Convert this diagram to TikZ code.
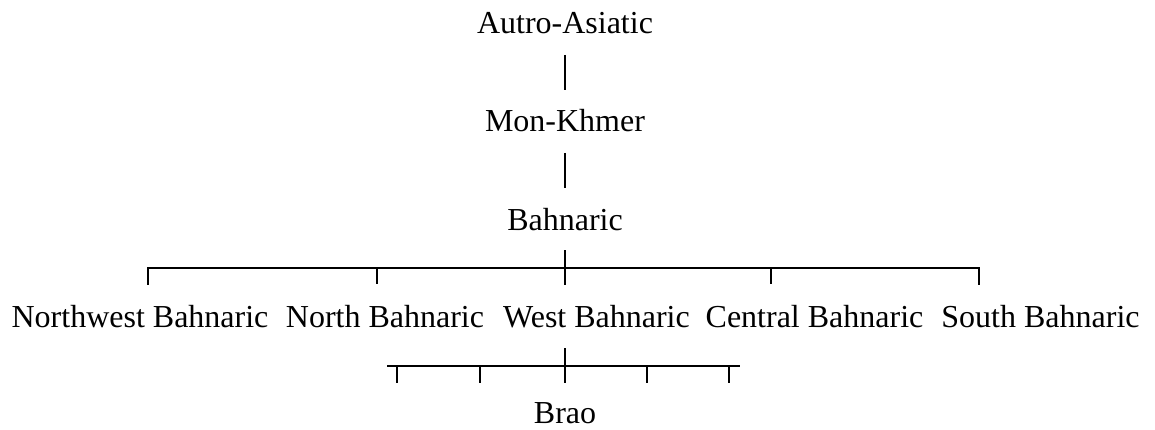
\documentclass[tikz,border=0pt]{standalone}
\usepackage{fontspec}
\setmainfont{Liberation Serif}
\begin{document}
\begin{tikzpicture}[x=1pt,y=-1pt,
  lbl/.style={inner sep=0pt,anchor=base,font=\fontsize{32}{38}\selectfont},
  br/.style={line width=2.5pt,line cap=butt}]
\useasboundingbox (0,0) rectangle (1155,430);
% labels
\node[lbl] (aa) at (565,34) {Autro-Asiatic};
\node[lbl] (mk) at (565,132) {Mon-Khmer};
\node[lbl] (ba) at (565,230) {Bahnaric};
\node[lbl] (nw) at (140,327) {Northwest Bahnaric};
\node[lbl] (nb) at (385,327) {North Bahnaric};
\node[lbl] (wb) at (596.5,327) {West Bahnaric};
\node[lbl] (cb) at (814.5,327) {Central Bahnaric};
\node[lbl] (sb) at (1040.5,327) {South Bahnaric};
\node[lbl] (br) at (565,423) {Brao};
% vertical connectors
\coordinate (c1) at (565,55); \coordinate (c2) at (565,90);
\coordinate (c3) at (565,153); \coordinate (c4) at (565,188);
\draw[br] (c1) -- (c2);
\draw[br] (c3) -- (c4);
% upper bracket
\coordinate (u0) at (148,268); \coordinate (u4) at (979,268);
\draw[br,line cap=rect] (148,284) |- (u4) -- (979,284);
\foreach \x in {377,771} \draw[br] (\x,268) -- (\x,284);
\draw[br] (565,250) -- (565,285);
% lower bracket
\draw[br] (387,366) -- (740,366);
\foreach \x in {397,480,647,729} \draw[br] (\x,366) -- (\x,383);
\draw[br] (565,348) -- (565,383);
\end{tikzpicture}
\end{document}
